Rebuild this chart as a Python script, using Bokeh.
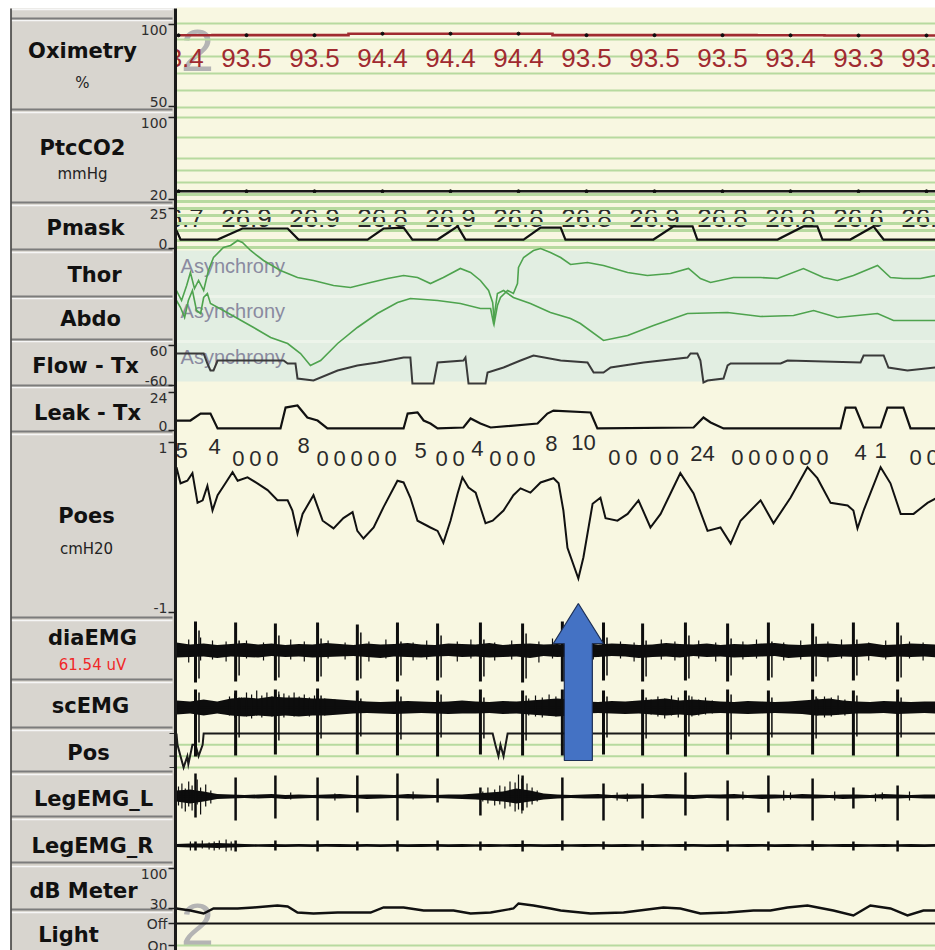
import numpy as np
from bokeh.plotting import figure
from bokeh.models import Range1d
from bokeh.core.properties import value
from bokeh.embed import file_html
from bokeh.resources import INLINE

# ------------------------------------------------------------------
# Channel data (time in seconds from the left edge of the page)
# ------------------------------------------------------------------
SPO2_T = [0, 2, 4, 6, 8, 10, 12, 14, 16, 18, 20, 22]
SPO2 = [93.4, 93.5, 93.5, 94.4, 94.4, 94.4, 93.5, 93.5, 93.5, 93.4, 93.3, 93.3]
PTCCO2 = [28, 28, 28, 28, 28, 28, 28, 28, 28, 28, 28, 28]
PMASK_READ = ["26.7", "26.9", "26.9", "26.8", "26.9", "26.8",
              "26.8", "26.9", "26.8", "26.8", "26.6", "26.6"]

PMASK_T = [-0.06, 0.06, 1.15, 1.88, 3.21, 3.53, 5.56, 6.03, 6.62, 6.88, 7.62, 8.21,
           8.44, 10.15, 10.65, 11.24, 11.38, 13.97, 14.56, 15.12, 15.26, 17.62,
           18.38, 18.79, 18.94, 19.76, 20.44, 20.74, 22.26]
PMASK = [11.3, 5.6, 5.6, 12.5, 12.5, 5.6, 5.6, 12.5, 13.1, 5.6, 5.6, 13.8,
         5.6, 5.6, 13.1, 13.1, 5.6, 5.6, 13.8, 13.8, 5.6, 5.6,
         13.8, 13.8, 5.6, 5.6, 13.8, 5.6, 5.6]

THOR_T = [-0.06, 0.09, 0.24, 0.35, 0.47, 0.59, 0.74, 0.88, 1.03, 1.32, 1.53, 1.74,
          1.88, 2.12, 2.50, 3.00, 3.50, 3.97, 4.56, 5.06, 5.65, 6.15, 6.62, 7.03,
          7.41, 7.79, 8.29, 8.59, 8.88, 9.12, 9.24, 9.29, 9.38, 9.47, 9.68, 9.85,
          9.97, 10.00, 10.15, 10.44, 10.65, 10.94, 11.24, 11.53, 12.03, 12.50,
          13.21, 13.79, 14.47, 15.00, 15.35, 15.65, 16.32, 17.12, 17.62, 18.38,
          18.97, 19.38, 19.85, 20.56, 20.94, 21.32, 21.82, 22.26]
THOR = [-1.6, -2.6, -1.1, 0.2, -1.4, -0.6, -1.6, 0.4, 1.7, 2.7, 2.9, 3.4,
        3.2, 2.4, 1.4, 0.4, -0.3, -0.6, -1.1, -1.3, -0.8, -0.4, -0.1, -0.3,
        -0.9, -0.3, 0.6, 0.2, -0.6, -1.6, -2.8, -4.8, -3.1, -2.3, -1.6, -1.9,
        -0.9, 0.7, 1.7, 2.4, 2.6, 2.2, 1.7, 1.0, 1.2, 0.9,
        0.2, -0.1, 0.1, 0.6, -0.4, -0.8, -0.3, -0.3, -0.4, 0.6,
        -0.3, -0.6, -0.1, 0.9, -0.3, -0.4, -0.4, -0.1]

ABDO_T = [-0.06, 0.06, 0.18, 0.29, 0.41, 0.53, 0.65, 0.74, 0.85, 0.94, 1.32, 1.74,
          2.21, 2.71, 3.21, 3.59, 3.88, 4.18, 4.68, 5.26, 5.85, 6.44, 6.82, 7.62,
          8.29, 8.88, 9.18, 9.26, 9.38, 9.56, 9.85, 10.35, 10.94, 11.53, 11.82,
          12.50, 13.21, 13.97, 14.97, 16.15, 17.12, 18.09, 18.68, 19.38, 20.56,
          21.03, 22.26]
ABDO = [1.9, 1.2, 0.2, 1.9, 2.9, 0.9, 0.6, 2.2, 2.6, 1.6, 0.9, 0.1,
        -0.8, -1.8, -2.4, -3.4, -4.6, -4.1, -2.4, -0.8, 0.6, 1.7, 2.1, 1.9,
        1.6, 1.1, 1.1, -0.3, 2.6, 2.9, 2.2, 1.6, 0.7, 0.1, -0.4,
        -2.1, -1.6, -0.6, 0.6, 0.7, 0.3, 0.4, 0.9, 0.2, 0.6,
        -0.1, -0.1]

FLOW_T = [-0.06, 0.74, 0.85, 0.94, 1.03, 1.15, 3.09, 3.21, 3.44, 3.50, 3.97, 4.68,
          5.26, 5.85, 6.62, 6.82, 6.88, 7.50, 7.62, 8.38, 8.44, 8.53, 9.03, 9.09,
          9.56, 10.06, 10.44, 11.24, 12.03, 12.21, 12.50, 12.71, 13.68, 14.97,
          15.06, 15.26, 15.35, 15.44, 15.56, 16.03, 16.15, 16.24, 17.71, 17.91,
          20.06, 20.15, 20.74, 20.88, 21.44, 22.26]
FLOW = [36, 36, 6, -15, -15, 15, 15, 6, 6, -39, -45, -15,
        0, 9, 24, 24, -54, -54, 9, 15, 24, -54, -54, -21,
        -6, 15, 30, 15, 9, -21, -21, -6, 9, 24,
        36, 36, 15, -51, -45, -39, 0, 6, 6, 15,
        9, 30, 30, -6, -15, -6]

LEAK_T = [-0.06, 0.35, 0.65, 0.94, 1.15, 3.00, 3.15, 3.50, 3.79, 4.09, 4.38, 6.62,
          6.74, 7.03, 7.21, 7.41, 7.62, 8.38, 8.59, 8.88, 9.18, 10.56, 10.85, 11.03,
          12.12, 12.32, 15.15, 15.44, 15.65, 16.03, 19.47, 19.62, 19.91, 20.15,
          20.65, 20.85, 21.32, 21.53, 22.26]
LEAK = [6.3, 6.3, 10.7, 10.7, 1.3, 1.3, 14.5, 15.8, 8.2, 6.3, 1.3, 1.3,
        10.7, 11.4, 6.3, 4.4, 1.3, 1.9, 7.6, 4.4, 1.9, 4.4, 10.7, 12.6,
        11.4, 1.3, 1.9, 8.2, 5.1, 1.3, 1.3, 14.5, 14.5, 1.9,
        1.9, 14.5, 14.5, 1.3, 1.3]

POES_T = [-0.06, 0.06, 0.26, 0.41, 0.56, 0.71, 0.85, 1.00, 1.15, 1.38, 1.59, 1.74,
          2.03, 2.32, 2.62, 2.91, 3.21, 3.35, 3.50, 3.65, 3.97, 4.24, 4.56, 4.85,
          5.12, 5.26, 5.44, 5.74, 6.03, 6.44, 6.62, 6.82, 7.03, 7.41, 7.62, 7.79,
          8.00, 8.21, 8.35, 8.53, 8.74, 9.03, 9.24, 9.56, 9.85, 10.06, 10.35, 10.65,
          11.03, 11.18, 11.32, 11.44, 11.76, 11.91, 12.18, 12.41, 12.56, 12.91,
          13.21, 13.53, 13.88, 14.18, 14.47, 14.76, 15.15, 15.56, 15.94, 16.24,
          16.53, 17.12, 17.50, 18.00, 18.50, 18.79, 19.18, 19.68, 19.85, 19.97,
          20.15, 20.65, 20.94, 21.24, 21.62, 22.03, 22.26]
POES = [0.71, 0.52, 0.55, 0.64, 0.29, 0.32, 0.49, 0.20, 0.38, 0.52, 0.65, 0.55,
        0.59, 0.52, 0.44, 0.32, 0.32, 0.20, -0.07, 0.16, 0.38, 0.08, -0.01, 0.11,
        0.18, -0.04, -0.13, 0.00, 0.24, 0.55, 0.53, 0.35, 0.08, 0.00, -0.04, -0.18,
        0.08, 0.40, 0.59, 0.47, 0.41, 0.05, 0.08, 0.20, 0.38, 0.46, 0.41, 0.53,
        0.58, 0.52, 0.20, -0.24, -0.60, -0.35, 0.28, 0.35, 0.11, 0.08,
        0.16, 0.32, 0.00, 0.16, 0.40, 0.64, 0.40, -0.04, 0.00, -0.19,
        0.08, 0.32, 0.05, 0.35, 0.71, 0.58, 0.29, 0.26, 0.20, -0.01,
        0.20, 0.71, 0.52, 0.16, 0.16, 0.29, 0.34]
POES_NOTES = ["5", "4", "000", "8", "00000", "5", "00", "4", "000", "8", "10",
              "00", "00", "24", "000000", "4", "1", "00"]
POES_NOTE_T = [0.09, 1.06, 1.76, 3.68, 4.24, 7.12, 7.74, 8.79, 9.32, 10.97, 11.91,
               12.82, 14.03, 15.41, 16.44, 20.06, 20.65, 21.68]

# heart-beat artefacts seen on the EMG leads (main and trailing deflection)
BEATS_T = [0.50, 1.68, 2.85, 4.09, 5.26, 6.44, 7.62, 8.88, 10.12, 11.29, 12.50,
           13.65, 14.91, 16.15, 17.35, 18.65, 19.85, 21.15]
DIA_UP = [58, 56, 54, 56, 52, 56, 54, 56, 54, 58, 56, 54, 56, 54, 56, 54, 56, 56]
DIA_DN = [-64, -62, -60, -62, -60, -62, -60, -62, -64, -62, -60, -62, -60, -62,
          -60, -62, -60, -62]
DIA_UP2 = [40, 20, 30, 24, 36, 18, 30, 22, 34, 40, 26, 20, 30, 24, 18, 28, 22, 30]
DIA_DN2 = [-56, -50, -54, -52, -56, -50, -54, -52, -56, -54, -50, -52, -56, -50,
           -54, -52, -50, -54]
SC_UP = [36, 34, 36, 38, 34, 36, 34, 36, 34, 36, 34, 36, 34, 36, 34, 36, 34, 36]
SC_DN = [-98, -96, -94, -96, -94, -96, -98, -94, -96, -96, -94, -96, -98, -94,
         -96, -94, -96, -98]
SC_UP2 = [30, 20, 26, 24, 18, 22, 26, 20, 24, 28, 22, 20, 24, 26, 20, 22, 24, 20]
SC_DN2 = [-70, -60, -66, -62, -58, -64, -60, -62, -66, -70, -60, -62, -58, -64,
          -60, -62, -58, -60]
LEGL_UP = [46, 38, 42, 38, 42, 46, 36, 18, 42, 38, 26, 26, 48, 32, 42, 36, 18, 22]
LEGL_DN = [-42, -48, -44, -48, -32, -48, -12, -38, -28, -48, -48, -44, -38, -48,
           -32, -48, -24, -48]
LEGR_UP = [8, 10, 10, 10, 8, 10, 10, 8, 10, 10, 8, 10, 8, 10, 8, 10, 8, 10]
LEGR_DN = [-10, -12, -10, -12, -10, -12, -10, -10, -12, -10, -8, -10, -10, -12,
           -10, -10, -10, -12]

# EMG background activity envelopes, one value every 0.4 s
EMG_T0, EMG_DT = -0.06, 0.4
DIA_HI = [16, 12, 14, 11, 13, 15, 12, 14, 11, 13, 12, 15, 13, 11, 14, 12, 13, 15, 12,
          11, 14, 13, 12, 15, 11, 13, 14, 12, 13, 11, 15, 12, 14, 13, 11, 12, 15, 13,
          12, 14, 11, 13, 12, 14, 15, 12, 11, 13, 14, 12, 13, 15, 11, 12, 14, 13, 12]
DIA_LO = [-14, -13, -12, -15, -12, -13, -14, -11, -13, -12, -14, -13, -12, -11, -13,
          -15, -12, -13, -14, -12, -11, -13, -12, -14, -13, -12, -15, -11, -13, -12,
          -14, -13, -11, -12, -15, -13, -12, -14, -11, -13, -12, -14, -13, -12, -11,
          -15, -13, -12, -14, -12, -13, -11, -14, -12, -13, -12, -14]
SC_HI = [14, 12, 16, 12, 18, 20, 18, 22, 20, 20, 18, 18, 16, 14, 12, 11, 12, 13, 12,
         11, 12, 14, 12, 11, 13, 12, 14, 16, 18, 16, 12, 11, 13, 12, 14, 16, 18, 14,
         16, 14, 12, 11, 13, 12, 11, 12, 14, 16, 18, 14, 12, 11, 13, 12, 11, 12, 12]
SC_LO = [-14, -12, -16, -12, -16, -18, -16, -18, -16, -18, -16, -16, -14, -12, -11,
         -12, -13, -12, -11, -12, -13, -12, -12, -11, -13, -12, -14, -16, -18, -16,
         -12, -11, -12, -13, -12, -14, -16, -14, -16, -12, -11, -12, -13, -12, -11,
         -12, -13, -16, -16, -14, -12, -12, -11, -13, -12, -11, -12]
LEGL_HI = [12, 14, 10, 5, 4, 3, 4, 5, 3, 4, 3, 4, 5, 3, 4, 4, 3, 5, 4, 3, 4, 4, 6, 8,
           10, 16, 12, 6, 4, 3, 4, 5, 3, 4, 4, 3, 5, 4, 3, 4, 4, 5, 3, 4, 4, 3, 5, 4,
           3, 4, 4, 3, 5, 4, 3, 4, 4]
LEGL_LO = [-10, -14, -10, -5, -4, -3, -4, -3, -5, -4, -3, -4, -4, -3, -5, -4, -3, -4,
           -4, -3, -4, -5, -6, -8, -10, -14, -10, -6, -4, -3, -4, -4, -3, -5, -4, -3,
           -4, -4, -5, -3, -4, -4, -3, -5, -4, -3, -4, -4, -3, -5, -4, -3, -4, -4, -3,
           -4, -4]
LEGR_HI = [3, 4, 4, 5, 4, 3, 2, 3, 2, 3, 2, 3, 3, 2, 3, 2, 3, 2, 3, 3, 2, 3, 2, 3, 2,
           3, 3, 2, 3, 2, 3, 3, 2, 3, 2, 3, 2, 3, 3, 2, 3, 2, 3, 3, 2, 3, 2, 3, 2, 3,
           3, 2, 3, 2, 3, 2, 3]
LEGR_LO = [-3, -4, -4, -5, -4, -3, -2, -3, -3, -2, -3, -2, -3, -3, -2, -3, -2, -3, -3,
           -2, -3, -3, -2, -3, -2, -3, -2, -3, -3, -2, -3, -2, -3, -3, -2, -3, -2, -3,
           -2, -3, -3, -2, -3, -2, -3, -3, -2, -3, -2, -3, -3, -2, -3, -2, -3, -3, -2]

# individual EMG bursts standing out of the background (time, peak, trough)
DIA_BURST_T = [0.3, 0.65, 1.0, 1.4, 2.0, 2.5, 3.3, 3.7, 4.4, 4.9, 5.6, 6.1, 6.9, 7.3,
               8.2, 8.6, 9.3, 9.8, 10.6, 11.0, 11.8, 12.2, 13.0, 13.4, 14.2, 14.6,
               15.3, 15.8, 16.6, 17.0, 17.8, 18.3, 19.1, 19.5, 20.3, 20.8, 21.5, 21.9]
DIA_BURST_HI = [22, 26, 20, 18, 20, 16, 22, 18, 20, 16, 18, 22, 16, 20, 18, 22, 16,
                20, 18, 24, 16, 20, 18, 16, 22, 18, 20, 16, 18, 22, 16, 20, 18, 22,
                16, 20, 18, 16]
DIA_BURST_LO = [-24, -20, -18, -22, -16, -20, -18, -22, -16, -18, -22, -16, -20, -18,
                -22, -16, -20, -18, -24, -16, -20, -18, -16, -22, -18, -20, -16, -22,
                -18, -16, -20, -18, -22, -16, -20, -18, -16, -20]
SC_BURST_T = [1.5, 1.65, 1.85, 2.0, 2.15, 2.3, 2.45, 2.6, 2.75, 2.95, 3.1, 3.25, 3.4,
              3.55, 3.7, 3.85, 4.0, 4.3, 4.6, 10.3, 10.5, 10.7, 10.9, 11.1, 13.9, 14.1,
              14.3, 14.5, 14.7, 15.1, 15.3, 15.5, 15.7, 18.8, 19.0, 19.2, 19.4, 19.6]
SC_BURST_HI = [22, 28, 20, 30, 26, 34, 24, 30, 22, 32, 28, 24, 30, 22, 26, 20, 24, 18,
               16, 18, 24, 20, 26, 22, 16, 22, 18, 24, 20, 22, 16, 20, 14, 18, 22, 20,
               24, 16]
SC_BURST_LO = [-16, -20, -14, -18, -22, -16, -20, -14, -18, -16, -20, -14, -18, -16,
               -14, -18, -14, -16, -12, -16, -18, -20, -16, -18, -14, -18, -22, -16,
               -20, -18, -16, -14, -12, -16, -20, -18, -14, -16]
LEGL_BURST_T = [0.0, 0.1, 0.2, 0.3, 0.4, 0.55, 0.65, 0.8, 0.95, 3.3, 4.6, 6.9, 8.95,
                9.1, 9.3, 9.45, 9.6, 9.75, 9.9, 10.0, 10.1, 10.25, 10.4, 10.55, 12.9,
                13.2, 16.6, 17.8, 18.0, 19.3, 20.5, 20.7, 21.5]
LEGL_BURST_HI = [20, 26, 16, 30, 22, 34, 18, 24, 12, 8, 6, 10, 10, 18, 14, 22, 20,
                 30, 28, 44, 36, 26, 18, 12, 8, 6, 10, 12, 8, 10, 6, 8, 10]
LEGL_BURST_LO = [-18, -24, -30, -20, -28, -16, -36, -20, -14, -6, -8, -6, -10, -14,
                 -18, -16, -24, -20, -30, -26, -34, -22, -16, -10, -8, -10, -6, -8,
                 -6, -8, -10, -6, -8]
LEGR_BURST_T = [0.35, 0.5, 0.7, 0.9, 1.05, 1.2, 1.4, 1.55]
LEGR_BURST_HI = [8, 6, 10, 6, 8, 10, 12, 8]
LEGR_BURST_LO = [-10, -8, -6, -8, -10, -8, -12, -10]

POS_T = [-0.06, -0.03, 0.06, 0.15, 0.26, 0.29, 0.41, 0.50, 0.59, 0.71, 0.74,
         9.24, 9.32, 9.41, 9.47, 9.56, 9.68, 22.30]
POS = [3, 2, 1, 0, 1, 0.3, 2, 2, 1, 2, 3, 3, 2, 1, 2, 1, 3, 3]

DB_T = [-0.06, 0.35, 0.74, 1.03, 1.74, 2.21, 2.91, 3.21, 3.50, 3.97, 4.68, 5.65,
        6.03, 6.62, 7.21, 8.09, 8.59, 9.18, 9.85, 10.00, 10.44, 10.94, 11.24, 12.12,
        13.09, 14.26, 14.76, 15.35, 16.15, 16.91, 17.41, 17.91, 18.50, 19.26, 19.85,
        20.35, 20.94, 21.44, 21.91, 22.26]
DB = [30, 26.5, 21.3, 30, 30, 31.8, 35.3, 33.5, 23, 21.3, 23, 23,
      31.8, 31.8, 26.5, 26.5, 21.3, 23, 30, 38.8, 35.3, 30, 26.5, 21.3,
      23, 31.8, 30, 21.3, 23, 26.5, 26.5, 31.8, 35.3, 26.5, 17.8,
      35.3, 30, 17.8, 26.5, 26.5]

LIGHT_T = [-0.06, 22.26]
LIGHT = [1, 1]          # 1 = Off, 0 = On

CHANNELS = ["Oximetry", "PtcCO2", "Pmask", "Thor", "Abdo", "Flow - Tx", "Leak - Tx",
            "Poes", "diaEMG", "scEMG", "Pos", "LegEMG_L", "LegEMG_R", "dB Meter", "Light"]
UNITS = ["%", "mmHg", "cmH20", "61.54 uV"]
ASYNC_TEXT = "Asynchrony"

# ------------------------------------------------------------------
# Page layout (screen pixels)
# ------------------------------------------------------------------
W, H = 935, 950
PX_PER_S = 34.0
T0_PX = 178          # screen column of t = 0
TRACE_L = 176        # left edge of the trace area
TOP = 8

# value at the top / bottom anchor pixel of each channel strip
CH = {
    "oxi": (100, 24, 50, 106),
    "co2": (100, 117, 20, 199),
    "pmask": (25, 208, 0, 248),
    "thor": (2, 254, -2, 294),
    "abdo": (2, 299, -2, 339),
    "flow": (60, 345, -60, 385),
    "leak": (24, 392, 0, 430),
    "poes": (1, 442, -1, 612),
    "dia": (60, 620, -60, 680),
    "sc": (40, 687, -40, 727),
    "pos": (3, 733, 0, 767),
    "legl": (40, 776, -40, 816),
    "legr": (40, 825, -40, 865),
    "db": (100, 868, 30, 908),
    "light": (1, 923, 0, 945),
}

CREAM = "#f8f7e1"
MINT = "#e2eee2"
GRID_GREEN = "#b7da9f"
TRACE_GREEN = "#4ea34e"
OXI_RED = "#a02a30"
PANEL = "#d4d0c8"
FACE = "#d8d5cf"
INK = "#0d0d0d"
NUM_FONT = value("Liberation Sans")
LAB_FONT = value("DejaVu Sans")


def chan_range(v_top, y_top, v_bot, y_bot):
    k = (v_top - v_bot) / (y_bot - y_top)
    return Range1d(start=v_bot - k * (H - y_bot), end=v_bot + k * y_bot)


p = figure(width=W, height=H, x_range=Range1d(0, W), y_range=Range1d(H, 0),
           output_backend="svg", toolbar_location=None, min_border=0,
           x_axis_location=None, y_axis_location=None, outline_line_color=None,
           background_fill_color="white", border_fill_color="white")
p.xgrid.visible = False
p.ygrid.visible = False
p.extra_x_ranges = {"t": Range1d(-T0_PX / PX_PER_S, (W - T0_PX) / PX_PER_S)}
p.extra_y_ranges = {k: chan_range(*v) for k, v in CH.items()}

T_START, T_END = POES_T[0], POES_T[-1]


def hlines(ys, color, width, rng="default", x0=TRACE_L, x1=W):
    n = len(ys)
    p.segment(x0=[x0] * n, x1=[x1] * n, y0=ys, y1=ys, y_range_name=rng,
              line_color=color, line_width=width)


def trace(t, v, rng, color="#111111", width=2.0):
    p.line(t, v, x_range_name="t", y_range_name=rng, line_color=color,
           line_width=width, line_join="miter")


def step_line(t, v, rng, color, width):
    edges = [T_START] + [(a + b) / 2 for a, b in zip(t[:-1], t[1:])] + [T_END]
    xs, ys = [], []
    for i, val in enumerate(v):
        xs += [edges[i], edges[i + 1]]
        ys += [val, val]
    trace(xs, ys, rng, color, width)


def vsticks(t, hi, lo, rng, width):
    p.segment(x0=t, x1=t, y0=hi, y1=lo, x_range_name="t", y_range_name=rng,
              line_color=INK, line_width=width)


def emg(hi, lo, rng, bursts, beats, beats2=None, spike_w=3):
    n = min(len(hi), len(lo))
    t = EMG_T0 + EMG_DT * np.arange(n)
    p.varea(x=t, y1=lo[:n], y2=hi[:n], x_range_name="t", y_range_name=rng,
            fill_color=INK)
    p.segment(x0=[T_START], x1=[T_END], y0=[0], y1=[0], x_range_name="t",
              y_range_name=rng, line_color=INK, line_width=2)
    vsticks(*bursts, rng, 1.2)
    vsticks(BEATS_T, *beats, rng, spike_w)
    if beats2 is not None:
        trail = [b + 3.5 / PX_PER_S for b in BEATS_T]
        vsticks(trail, *beats2, rng, 1.5)


# ---- trace area backgrounds ----
p.quad(left=TRACE_L, right=W, top=TOP - 1, bottom=H, fill_color=CREAM, line_color=None)
p.quad(left=TRACE_L, right=W, top=250, bottom=381, fill_color=MINT, line_color=None)
hlines([296, 341], "#edf4ea", 3)

# page number watermark
p.text(x=[197, 197], y=[50, 924], text=["2", "2"], text_font=NUM_FONT,
       text_font_size="60px", text_color="#b4b4b4", text_align="center",
       text_baseline="middle")

# ---- Oximetry / PtcCO2 ----
hlines([23, 39, 56, 73, 90, 107, 117, 137, 158, 170, 182], GRID_GREEN, 2)
p.text(x=SPO2_T, y=[57] * len(SPO2), text=[f"{v:.1f}" for v in SPO2],
       x_range_name="t", text_font=NUM_FONT, text_font_size="26px",
       text_color=OXI_RED, text_align="center", text_baseline="middle")
step_line(SPO2_T, SPO2, "oxi", OXI_RED, 2.6)
p.scatter(SPO2_T, SPO2, x_range_name="t", y_range_name="oxi", size=3, color=INK)
step_line(SPO2_T, PTCCO2, "co2", "#1a1a1a", 2.4)
p.scatter(SPO2_T, PTCCO2, x_range_name="t", y_range_name="co2", size=3, color=INK)

# ---- Pmask ----
p.text(x=SPO2_T, y=[217] * len(PMASK_READ), text=PMASK_READ, x_range_name="t",
       text_font=NUM_FONT, text_font_size="26px", text_color="#2a2a2a",
       text_align="center", text_baseline="middle")
hlines([194, 201, 208, 215, 223, 230, 240, 247], GRID_GREEN, 3.2)
trace(PMASK_T, PMASK, "pmask", "#111111", 2.2)

# ---- Thor / Abdo / Flow ----
p.text(x=[0.06] * 3, y=[265, 310, 356], text=[ASYNC_TEXT] * 3, x_range_name="t",
       text_font=NUM_FONT, text_font_size="20px", text_color="#8a8aa0",
       text_align="left", text_baseline="middle")
trace(THOR_T, THOR, "thor", TRACE_GREEN, 1.6)
trace(ABDO_T, ABDO, "abdo", TRACE_GREEN, 1.6)
trace(FLOW_T, FLOW, "flow", "#3a3a3a", 2.0)

# ---- Leak ----
trace(LEAK_T, LEAK, "leak", "#111111", 2.2)

# ---- Poes ----
NOTE_Y = [450, 446, 458, 445, 458, 450, 458, 448, 458, 443, 442, 457, 457, 453, 457,
          452, 450, 457]
CHAR_STEP = 17 / PX_PER_S
nx, ny, nt = [], [], []
for s, t, y in zip(POES_NOTES, POES_NOTE_T, NOTE_Y):
    if set(s) == {"0"}:
        for i, ch in enumerate(s):
            nx.append(t + i * CHAR_STEP)
            ny.append(y)
            nt.append(ch)
    else:
        nx.append(t)
        ny.append(y)
        nt.append(s)
p.text(x=nx, y=ny, text=nt, x_range_name="t", text_font=NUM_FONT,
       text_font_size="22px", text_color="#2a2a2a", text_align="center",
       text_baseline="middle")
trace(POES_T, POES, "poes", "#111111", 2.0)

# ---- Pos ----
hlines([2, 1, 0], GRID_GREEN, 2, rng="pos")
trace(POS_T, POS, "pos", "#1a1a1a", 2.0)

# ---- EMG channels ----
emg(DIA_HI, DIA_LO, "dia", (DIA_BURST_T, DIA_BURST_HI, DIA_BURST_LO),
    (DIA_UP, DIA_DN), (DIA_UP2, DIA_DN2))
emg(SC_HI, SC_LO, "sc", (SC_BURST_T, SC_BURST_HI, SC_BURST_LO),
    (SC_UP, SC_DN), (SC_UP2, SC_DN2))
emg(LEGL_HI, LEGL_LO, "legl", (LEGL_BURST_T, LEGL_BURST_HI, LEGL_BURST_LO),
    (LEGL_UP, LEGL_DN), spike_w=2.5)
emg(LEGR_HI, LEGR_LO, "legr", (LEGR_BURST_T, LEGR_BURST_HI, LEGR_BURST_LO),
    (LEGR_UP, LEGR_DN), spike_w=2.5)

# ---- dB meter / Light ----
trace(DB_T, DB, "db", "#111111", 2.4)
hlines([0], GRID_GREEN, 2, rng="light")
trace(LIGHT_T, LIGHT, "light", "#111111", 2.2)

# ---- channel label panel ----
ROWS = [(8, 18), (19, 109), (111, 202), (204, 249), (251, 296), (297, 339),
        (340, 385), (386, 431), (433, 617), (619, 679), (681, 727), (729, 771),
        (773, 816), (818, 862), (865, 909), (911, 952)]
p.quad(left=10, right=174, top=TOP, bottom=H, fill_color=PANEL, line_color=None)
p.quad(left=[12] * len(ROWS), right=[172] * len(ROWS), top=[r[0] + 1 for r in ROWS],
       bottom=[r[1] - 1 for r in ROWS], fill_color=FACE, line_color=None)
hlines([r[0] + 1 for r in ROWS], "#f6f6f6", 1.5, x0=11, x1=172)
hlines([r[1] for r in ROWS], "#7c7c7c", 2, x0=11, x1=172)
p.segment(x0=[10.5], x1=[10.5], y0=[TOP], y1=[H], line_color="#3a3a3a", line_width=1.5)

LAB_POS = [(82, 50), (82, 147), (85, 227), (94, 274), (90, 318), (85, 365), (87, 412),
           (86, 515), (92, 637), (90, 705), (88, 752), (93, 798), (92, 845), (83, 890),
           (68, 934)]
p.text(x=[q[0] for q in LAB_POS], y=[q[1] for q in LAB_POS], text=CHANNELS,
       text_font=LAB_FONT, text_font_style="bold", text_font_size="21px",
       text_color="#111111", text_align="center", text_baseline="middle")
p.text(x=[82, 82, 86], y=[82, 173, 548], text=UNITS[:3], text_font=LAB_FONT,
       text_font_size="15px", text_color="#222222", text_align="center",
       text_baseline="middle")
p.text(x=[92], y=[664], text=[UNITS[3]], text_font=LAB_FONT, text_font_size="15px",
       text_color="#f02828", text_align="center", text_baseline="middle")

# scale ticks and their labels
TICKS = [("oxi", 100, "100", "top"), ("oxi", 50, "50", "bottom"),
         ("co2", 100, "100", "top"), ("co2", 20, "20", "bottom"),
         ("pmask", 25, "25", "top"), ("pmask", 0, "0", "bottom"),
         ("flow", 60, "60", "top"), ("flow", -60, "-60", "bottom"),
         ("leak", 24, "24", "top"), ("leak", 0, "0", "bottom"),
         ("poes", 1, "1", "top"), ("poes", -1, "-1", "bottom"),
         ("db", 100, "100", "top"), ("db", 30, "30", "bottom"),
         ("light", 1, "Off", "middle"), ("light", 0, "On", "middle")]
for rng, v, s, base in TICKS:
    p.text(x=[167], y=[v], text=[s], y_range_name=rng, text_font=LAB_FONT,
           text_font_size="14px", text_color="#2e2e2e", text_align="right",
           text_baseline=base)
    p.segment(x0=[168], x1=[174], y0=[v], y1=[v], y_range_name=rng,
              line_color="#222222", line_width=1.5)
p.segment(x0=[169] * 4, x1=[174] * 4, y0=[3, 2, 1, 0], y1=[3, 2, 1, 0],
          y_range_name="pos", line_color="#333333", line_width=1.2)

# left edge of the trace area
p.segment(x0=[175], x1=[175], y0=[TOP], y1=[H], line_color="#1a1a1a", line_width=3)

# ---- arrow marking the deepest oesophageal swing ----
tip_t = POES_T[int(np.argmin(POES))]
hw, sw = 25 / PX_PER_S, 14 / PX_PER_S
p.patch(x=[tip_t, tip_t + hw, tip_t + sw, tip_t + sw, tip_t - sw, tip_t - sw, tip_t - hw],
        y=[603, 643, 643, 760, 760, 643, 643], x_range_name="t",
        fill_color="#4472c4", line_color="#1d2f55", line_width=1.2)

open("out.html", "w").write(file_html(p, INLINE))
